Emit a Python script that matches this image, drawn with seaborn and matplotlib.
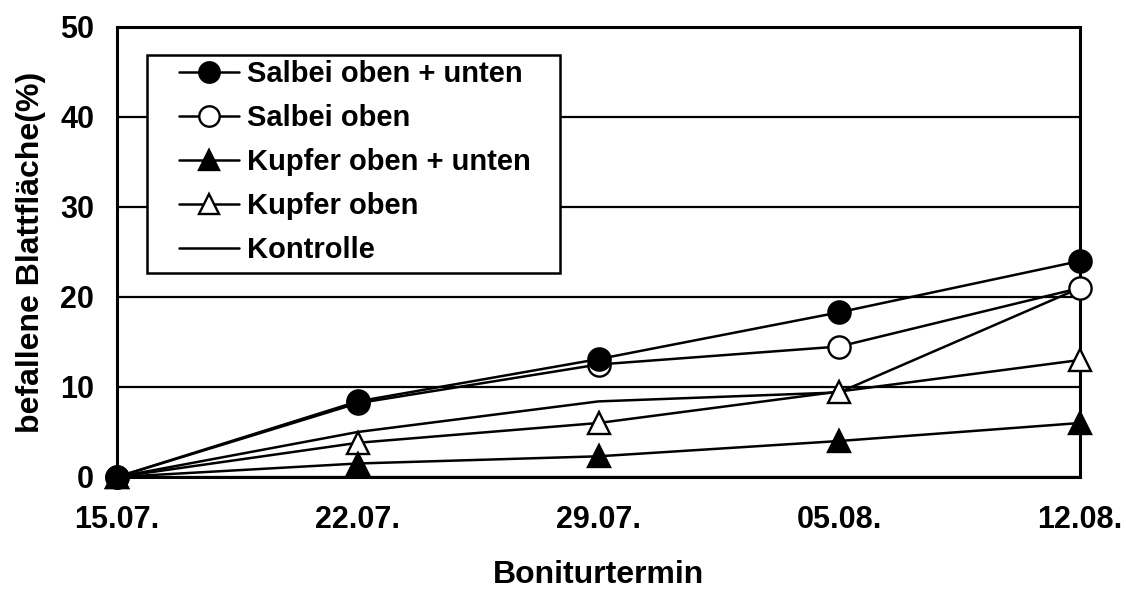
import matplotlib
matplotlib.use("Agg")
import matplotlib.pyplot as plt
from matplotlib.patches import Rectangle
import seaborn as sns
import pandas as pd

dates = ["15.07.", "22.07.", "29.07.", "05.08.", "12.08."]
salbei_ou = [0, 8.4, 13.1, 18.3, 24.0]
salbei_o = [0, 8.2, 12.5, 14.5, 21.0]
kupfer_ou = [0, 1.5, 2.3, 4.0, 6.0]
kupfer_o = [0, 3.8, 6.0, 9.5, 13.0]
kontrolle = [0, 5.0, 8.4, 9.4, 21.0]

series = [
    ("Salbei oben + unten", salbei_ou, "o", "black"),
    ("Salbei oben", salbei_o, "o", "white"),
    ("Kupfer oben + unten", kupfer_ou, "^", "black"),
    ("Kupfer oben", kupfer_o, "^", "white"),
    ("Kontrolle", kontrolle, None, None),
]

sns.set_theme(style="white")
plt.rcParams["font.family"] = ["Liberation Sans", "DejaVu Sans"]
plt.rcParams["font.weight"] = "bold"

fig = plt.figure(figsize=(11.26, 5.89), dpi=100)
ax = fig.add_axes([117 / 1126, 1 - 477 / 589, (1080 - 117) / 1126, (477 - 27) / 589])

xpos = list(range(len(dates)))
for i, (name, vals, mk, fc) in enumerate(series):
    df = pd.DataFrame({"x": xpos, "y": vals})
    kw = dict(color="black", linewidth=1.8, zorder=5 - 0.1 * i, clip_on=False)
    if mk is not None:
        kw.update(marker=mk, markersize=16, markerfacecolor=fc,
                  markeredgecolor="black", markeredgewidth=1.7)
    sns.lineplot(data=df, x="x", y="y", ax=ax, label=name, **kw)

ax.set_xlim(0, 4)
ax.set_ylim(0, 50)
ax.set_xticks(xpos)
ax.set_xticklabels(dates)
ax.set_yticks([0, 10, 20, 30, 40, 50])
ax.yaxis.grid(True, color="black", linewidth=1.6)
ax.xaxis.grid(False)
ax.set_axisbelow(True)
for s in ax.spines.values():
    s.set_visible(True)
    s.set_color("black")
    s.set_linewidth(2.2)

ax.tick_params(axis="both", which="major", direction="out", length=7.5,
               width=1.6, color="black", labelsize=22, labelcolor="black")
ax.tick_params(axis="y", pad=9)
ax.tick_params(axis="x", pad=13)
for lbl in ax.get_xticklabels() + ax.get_yticklabels():
    lbl.set_fontweight("bold")

ax.set_xlabel("Boniturtermin", fontsize=23, fontweight="bold", color="black", labelpad=18)
ax.set_ylabel("befallene Blattfläche(%)", fontsize=23, fontweight="bold", color="black")
ax.yaxis.set_label_coords(-0.074, 0.5)

# legend frame
box = Rectangle((30 / 963, (477 - 273) / 450), (560 - 147) / 963, (273 - 55) / 450,
                transform=ax.transAxes, facecolor="white", edgecolor="black",
                linewidth=1.8, zorder=6)
ax.add_patch(box)

leg = ax.legend(loc="upper left",
                bbox_to_anchor=((179 - 117) / 963, (477 - 60) / 450),
                borderaxespad=0, borderpad=0, frameon=False,
                fontsize=21, handlelength=2.05, handletextpad=0.28,
                labelspacing=0.55, markerscale=0.92)
leg.set_zorder(7)
for t in leg.get_texts():
    t.set_fontweight("bold")
    t.set_color("black")

fig.savefig("out.png", dpi=100)
